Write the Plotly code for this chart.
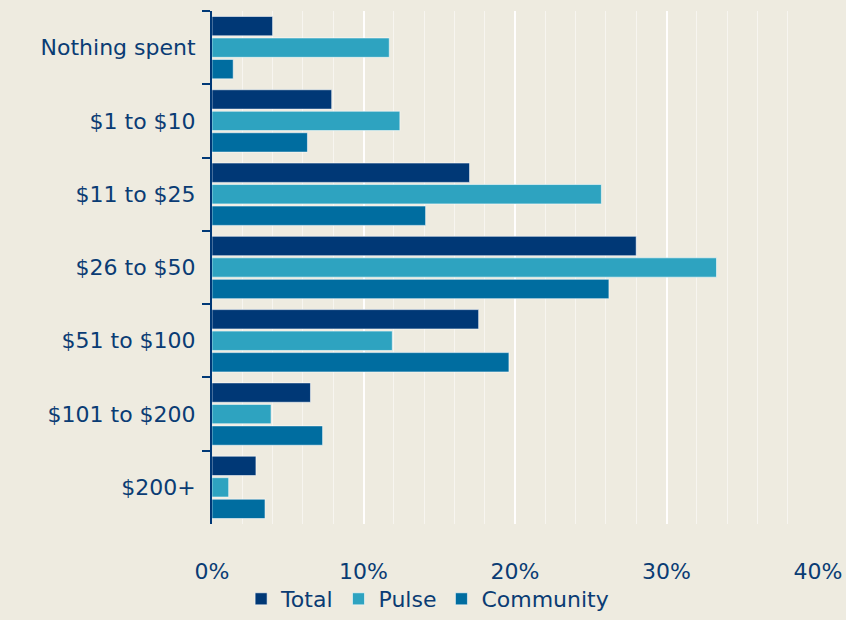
import plotly.graph_objects as go

categories = ["Nothing spent", "$1 to $10", "$11 to $25", "$26 to $50",
              "$51 to $100", "$101 to $200", "$200+"]
total = [4.0, 7.9, 17.0, 28.0, 17.6, 6.5, 2.9]
pulse = [11.7, 12.4, 25.7, 33.3, 11.9, 3.9, 1.1]
community = [1.4, 6.3, 14.1, 26.2, 19.6, 7.3, 3.5]

SERIES = [("Total", total, "#003876"), ("Pulse", pulse, "#2EA3C0"),
          ("Community", community, "#006DA0")]
TEXT = "#0A3C74"
BG = "#EEEBE0"
FONT = "DejaVu Sans"

fig = go.Figure()
for name, vals, color in SERIES:
    fig.add_trace(go.Bar(
        y=categories, x=vals, name=name, orientation="h",
        marker=dict(color=color, line=dict(color="rgba(255,255,255,0.55)", width=1)),
    ))

fig.update_layout(
    width=846, height=620,
    barmode="group", bargap=0.12, bargroupgap=0.1,
    paper_bgcolor=BG, plot_bgcolor=BG,
    margin=dict(l=212, r=28, t=11, b=96),
    font=dict(family=FONT, color=TEXT, size=22),
    legend=dict(orientation="h", xref="container", yref="container",
                x=0.285, xanchor="left", y=0.0, yanchor="bottom",
                bgcolor="rgba(0,0,0,0)",
                font=dict(size=22, color=TEXT), itemwidth=30, traceorder="normal"),
)
fig.update_xaxes(
    range=[0, 40], dtick=10, ticksuffix="%", showline=False, zeroline=False,
    showgrid=True, gridcolor="rgba(255,255,255,0.95)", gridwidth=2,
    ticks="outside", ticklen=28, tickcolor="rgba(0,0,0,0)", automargin=False,
    tickfont=dict(size=22, color=TEXT),
    minor=dict(dtick=2, showgrid=True, gridcolor="rgba(255,255,255,0.5)", gridwidth=1),
)
fig.update_yaxes(
    autorange="reversed", showline=True, linecolor="#003876", linewidth=2,
    ticks="outside", tickson="boundaries", ticklen=8, tickwidth=2, tickcolor="#003876",
    ticklabelstandoff=10, showgrid=False, automargin=False,
    tickfont=dict(size=22, color=TEXT),
)

fig.write_html("out.html", config={"displayModeBar": False},
               post_script="document.body.style.margin='0';")
